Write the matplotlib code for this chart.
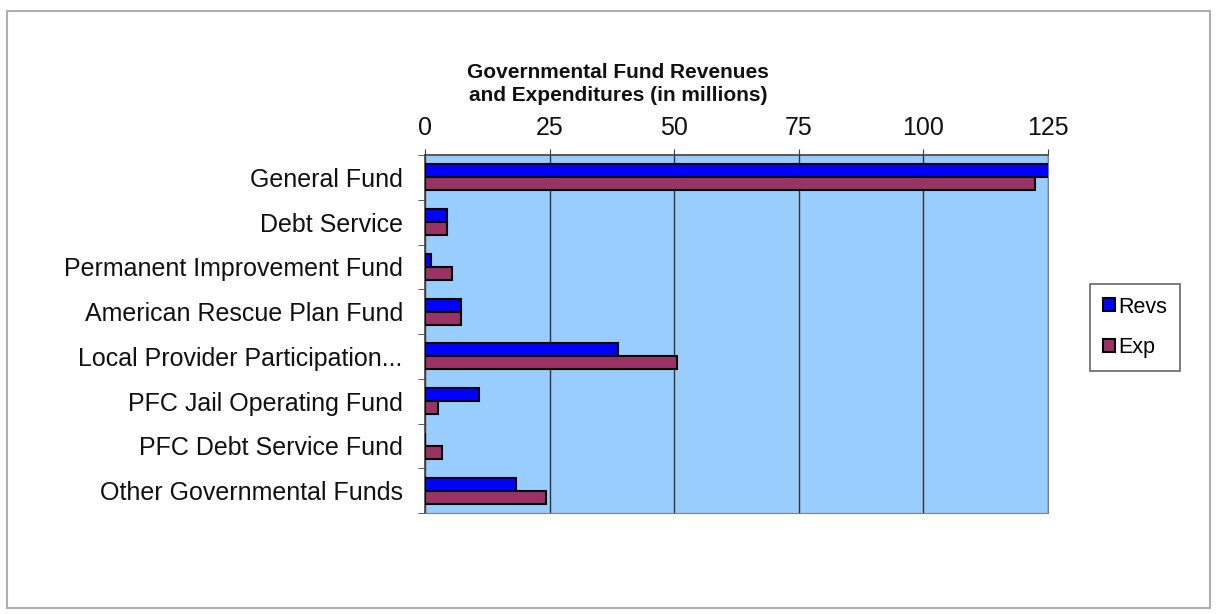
import matplotlib
matplotlib.use("Agg")
import matplotlib.pyplot as plt
import numpy as np
from matplotlib.patches import Rectangle

plt.rcParams['font.family'] = ['Liberation Sans', 'DejaVu Sans']

funds = ['General Fund', 'Debt Service', 'Permanent Improvement Fund',
         'American Rescue Plan Fund', 'Local Provider Participation...',
         'PFC Jail Operating Fund', 'PFC Debt Service Fund',
         'Other Governmental Funds']
revs = [126.0, 4.4, 1.3, 7.2, 38.7, 10.9, 0.0, 18.2]
exps = [122.4, 4.4, 5.5, 7.2, 50.5, 2.7, 3.5, 24.2]
xticks = [0, 25, 50, 75, 100, 125]

fig = plt.figure(figsize=(12.17, 6.14), dpi=100)
fig.patches.append(Rectangle((7 / 1217, 6 / 614), 1203 / 1217, 597 / 614,
                             transform=fig.transFigure, fill=False,
                             edgecolor='#b0b0b0', linewidth=1.5))

ax = fig.add_axes([0.3492, 0.1645, 0.5119, 0.583])
ax.set_facecolor('#99ccff')

y = np.arange(len(funds))
h = 0.29
ax.barh(y - h / 2, revs, height=h, color='#0000ff', edgecolor='black',
        linewidth=1.5, label='Revs', zorder=3)
ax.barh(y + h / 2, exps, height=h, color='#993366', edgecolor='black',
        linewidth=1.5, label='Exp', zorder=3)

ax.set_xlim(0, 125)
ax.set_ylim(len(funds) - 0.5, -0.5)
ax.xaxis.tick_top()
ax.set_xticks(xticks)
ax.tick_params(axis='x', labelsize=18, length=4, pad=7, color='#404040',
               labelcolor='#111111')
ax.set_yticks(y)
ax.set_yticklabels(funds)
ax.tick_params(axis='y', labelsize=18, length=0, pad=16, labelcolor='#111111')
ax.set_yticks(np.arange(len(funds) + 1) - 0.5, minor=True)
ax.tick_params(axis='y', which='minor', length=5, color='#404040')
ax.grid(axis='x', color='#333333', linewidth=1.0, zorder=1)

for side in ['left', 'top']:
    ax.spines[side].set_color('#404040')
    ax.spines[side].set_linewidth(1.2)
ax.spines['right'].set_color('#808080')
ax.spines['bottom'].set_color('#808080')

fig.text(0.508, 0.863, 'Governmental Fund Revenues\nand Expenditures (in millions)',
         ha='center', va='center', fontsize=15, fontweight='bold',
         linespacing=1.3, color='#111111')

leg = fig.legend(loc='center left', bbox_to_anchor=(0.887, 0.467),
                 fontsize=15.5, frameon=True, fancybox=False, handlelength=0.55,
                 handleheight=0.55, handletextpad=0.15, labelspacing=0.9,
                 borderpad=0.6)
leg.get_frame().set_edgecolor('#404040')
leg.get_frame().set_linewidth(1.2)

fig.savefig('out.png', dpi=100)
